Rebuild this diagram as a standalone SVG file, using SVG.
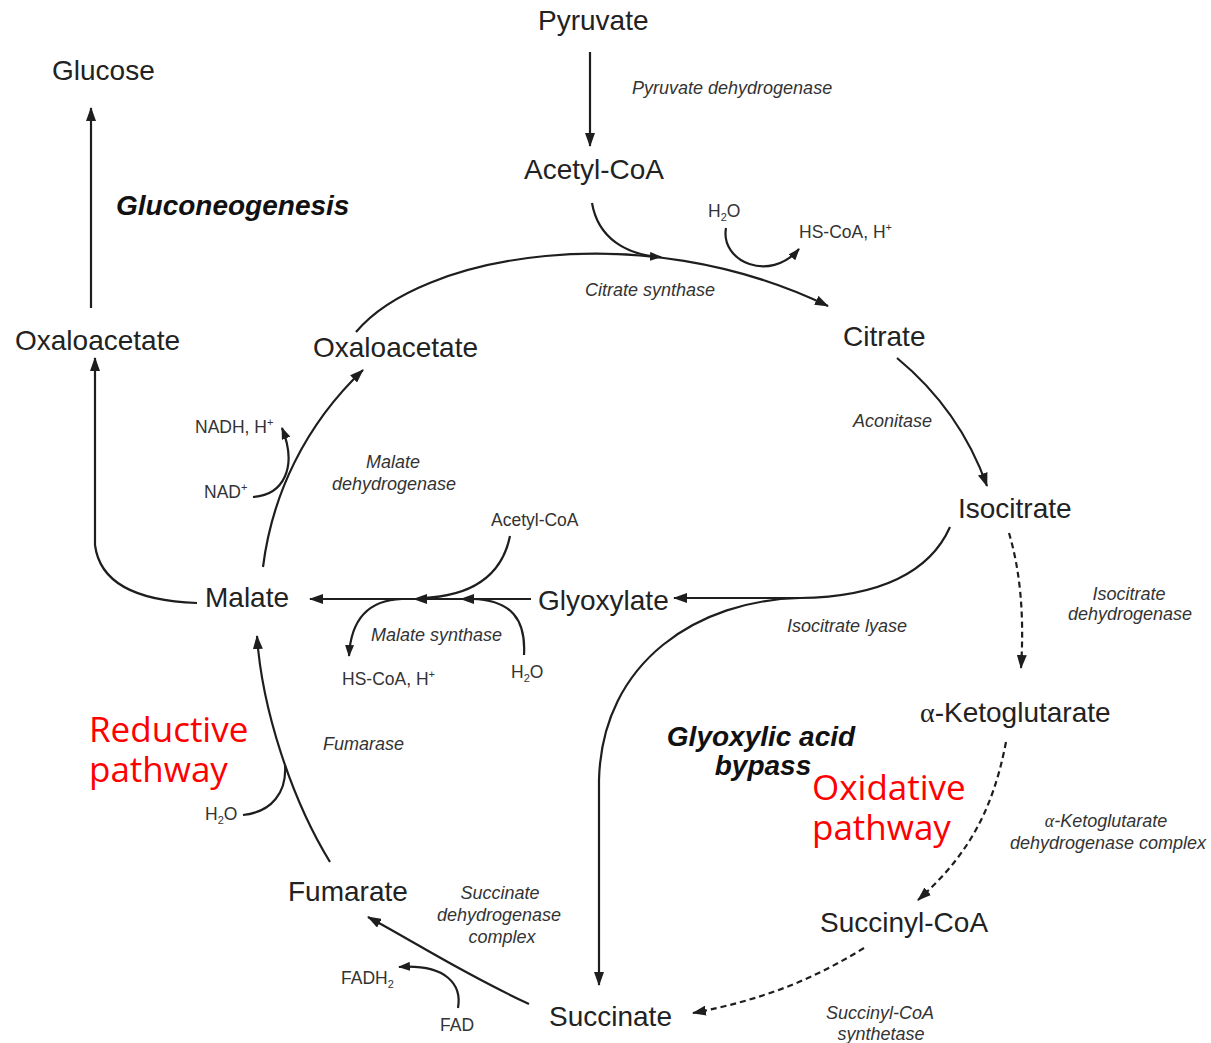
<svg xmlns="http://www.w3.org/2000/svg" width="1211" height="1043" viewBox="0 0 1211 1043">
  <defs>
    <marker id="arrow" viewBox="0 0 14 10" refX="13" refY="5" markerWidth="14" markerHeight="10" markerUnits="userSpaceOnUse" orient="auto">
      <path d="M0,0 L14,5 L0,10 z" fill="#1e1e1e"/>
    </marker>
    <marker id="arrowSm" viewBox="0 0 12 9" refX="11" refY="4.5" markerWidth="12" markerHeight="9" markerUnits="userSpaceOnUse" orient="auto">
      <path d="M0,0 L12,4.5 L0,9 z" fill="#1e1e1e"/>
    </marker>
    <style>
      .node { font-family: "Liberation Sans", Arial, sans-serif; font-size: 28px; fill: #222; }
      .enz { font-family: "Liberation Sans", Arial, sans-serif; font-size: 18px; font-style: italic; fill: #333; }
      .rea { font-family: "Liberation Sans", Arial, sans-serif; font-size: 17.5px; fill: #333; }
      .bold { font-family: "Liberation Sans", Arial, sans-serif; font-size: 28px; font-style: italic; font-weight: bold; fill: #111; }
      .red { font-family: "Open Sans", "Noto Sans", sans-serif; font-size: 35px; fill: #ff0000; }
      .ln { fill: none; stroke: #1e1e1e; stroke-width: 2.2; }
      .arr { marker-end: url(#arrow); }
      .arrs { marker-end: url(#arrowSm); }
      .dash { stroke-dasharray: 6 4; }
      .greek { font-family: "Liberation Serif", "Times New Roman", serif; }
    </style>
  </defs>

  <rect width="1211" height="1043" fill="#ffffff"/>

  <!-- connectors -->
  <g id="connectors">
    <!-- Pyruvate to Acetyl-CoA -->
    <path class="ln arr" d="M590 52 L590 146"/>
    <!-- Oxaloacetate (left) to Glucose -->
    <path class="ln arr" d="M91 308 L91 108"/>
    <!-- Malate to Oxaloacetate (left) -->
    <path class="ln arr" d="M197 603 C140 601 100 585 95 545 L95 358"/>
    <!-- Malate to Oxaloacetate (cycle) -->
    <path class="ln arr" d="M263 567 C272 495 305 425 363 370"/>
    <!-- NAD+ in, NADH out -->
    <path class="ln arrs" d="M253 497 C283 495 298 468 282 428"/>
    <!-- Oxaloacetate to Citrate -->
    <path class="ln arr" d="M356 332 C420 255 640 215 828 306"/>
    <!-- Acetyl-CoA joining -->
    <path class="ln arrs" d="M592 203 C598 238 626 255 661 257"/>
    <!-- H2O in, HS-CoA out -->
    <path class="ln arrs" d="M726 228 C720 262 770 283 799 249"/>
    <!-- Citrate to Isocitrate -->
    <path class="ln arr" d="M897 358 Q960 410 987 486"/>
    <!-- Isocitrate to alpha-Ketoglutarate -->
    <path class="ln dash arr" d="M1009 533 Q1026 590 1021 668"/>
    <!-- alpha-Ketoglutarate to Succinyl-CoA -->
    <path class="ln dash arr" d="M1006 742 C992 815 965 858 918 900"/>
    <!-- Succinyl-CoA to Succinate -->
    <path class="ln dash arr" d="M864 948 C812 980 762 1000 693 1013"/>
    <!-- Isocitrate lyase: to Glyoxylate -->
    <path class="ln arr" d="M950 527 C930 572 880 597 800 598 L674 598"/>
    <!-- Isocitrate lyase: to Succinate -->
    <path class="ln arr" d="M800 598 C700 600 602 660 599 780 L599 985"/>
    <!-- Glyoxylate to Malate (malate synthase) -->
    <path class="ln" d="M531 599 L310 599" marker-end="url(#arrow)"/>
    <path d="M460 599 l14 -5 l0 10 z" fill="#1e1e1e"/>
    <path d="M413 599 l14 -5 l0 10 z" fill="#1e1e1e"/>
    <!-- Acetyl-CoA joining -->
    <path class="ln" d="M510 536 C502 575 472 596 422 598"/>
    <!-- H2O joining -->
    <path class="ln" d="M524 655 C526 620 512 600 472 599"/>
    <!-- HS-CoA out -->
    <path class="ln arrs" d="M402 599 C370 600 351 617 349 656"/>
    <!-- Fumarate to Malate -->
    <path class="ln arr" d="M330 862 C292 800 262 710 257 636"/>
    <!-- H2O joining -->
    <path class="ln" d="M243 815 C272 812 287 792 285 765"/>
    <!-- Succinate to Fumarate -->
    <path class="ln arr" d="M529 1004 C460 972 420 945 368 917"/>
    <!-- FAD in, FADH2 out -->
    <path class="ln arrs" d="M458 1008 C462 985 447 964 399 967"/>
  </g>

  <!-- metabolites -->
  <g id="pyruvate"><text class="node" x="538" y="30">Pyruvate</text></g>
  <g id="glucose"><text class="node" x="52" y="80">Glucose</text></g>
  <g id="acetyl-coa"><text class="node" x="524" y="179">Acetyl-CoA</text></g>
  <g id="citrate"><text class="node" x="843" y="346">Citrate</text></g>
  <g id="oxaloacetate-gluco"><text class="node" x="15" y="350">Oxaloacetate</text></g>
  <g id="oxaloacetate"><text class="node" x="313" y="357">Oxaloacetate</text></g>
  <g id="isocitrate"><text class="node" x="958" y="518">Isocitrate</text></g>
  <g id="malate"><text class="node" x="205" y="607">Malate</text></g>
  <g id="glyoxylate"><text class="node" x="538" y="610">Glyoxylate</text></g>
  <g id="ketoglutarate"><text class="node" x="920" y="722"><tspan class="greek">α</tspan>-Ketoglutarate</text></g>
  <g id="fumarate"><text class="node" x="288" y="901">Fumarate</text></g>
  <g id="succinyl-coa"><text class="node" x="820" y="932">Succinyl-CoA</text></g>
  <g id="succinate"><text class="node" x="549" y="1026">Succinate</text></g>

  <!-- enzymes -->
  <g id="enzymes">
    <text class="enz" x="632" y="94">Pyruvate dehydrogenase</text>
    <text class="enz" x="585" y="296">Citrate synthase</text>
    <text class="enz" x="853" y="427">Aconitase</text>
    <text class="enz" text-anchor="middle" x="1129" y="600">Isocitrate</text>
    <text class="enz" text-anchor="middle" x="1130" y="620">dehydrogenase</text>
    <text class="enz" x="787" y="632">Isocitrate lyase</text>
    <text class="enz" text-anchor="middle" x="393" y="468">Malate</text>
    <text class="enz" text-anchor="middle" x="394" y="490">dehydrogenase</text>
    <text class="enz" x="371" y="641">Malate synthase</text>
    <text class="enz" x="323" y="750">Fumarase</text>
    <text class="enz" text-anchor="middle" x="500" y="899">Succinate</text>
    <text class="enz" text-anchor="middle" x="499" y="921">dehydrogenase</text>
    <text class="enz" text-anchor="middle" x="502" y="943">complex</text>
    <text class="enz" text-anchor="middle" x="1106" y="827"><tspan class="greek">α</tspan>-Ketoglutarate</text>
    <text class="enz" text-anchor="middle" x="1108" y="849">dehydrogenase complex</text>
    <text class="enz" text-anchor="middle" x="880" y="1019">Succinyl-CoA</text>
    <text class="enz" text-anchor="middle" x="881" y="1040">synthetase</text>
  </g>

  <!-- cofactors -->
  <g id="cofactors">
    <text class="rea" x="708" y="217">H<tspan font-size="11" dy="4">2</tspan><tspan dy="-4">O</tspan></text>
    <text class="rea" x="799" y="238">HS-CoA, H<tspan font-size="11" dy="-7">+</tspan></text>
    <text class="rea" x="195" y="433">NADH, H<tspan font-size="11" dy="-7">+</tspan></text>
    <text class="rea" x="204" y="498">NAD<tspan font-size="11" dy="-7">+</tspan></text>
    <text class="rea" x="491" y="526">Acetyl-CoA</text>
    <text class="rea" x="342" y="685">HS-CoA, H<tspan font-size="11" dy="-7">+</tspan></text>
    <text class="rea" x="511" y="678">H<tspan font-size="11" dy="4">2</tspan><tspan dy="-4">O</tspan></text>
    <text class="rea" x="205" y="820">H<tspan font-size="11" dy="4">2</tspan><tspan dy="-4">O</tspan></text>
    <text class="rea" x="341" y="984">FADH<tspan font-size="11" dy="4">2</tspan></text>
    <text class="rea" x="440" y="1031">FAD</text>
  </g>

  <!-- pathway headings -->
  <g id="headings">
    <text class="bold" x="116" y="215">Gluconeogenesis</text>
    <text class="bold" text-anchor="middle"><tspan x="761" y="746">Glyoxylic acid</tspan><tspan x="763" y="775">bypass</tspan></text>
    <text class="red"><tspan x="89" y="742">Reductive</tspan><tspan x="89" y="782">pathway</tspan></text>
    <text class="red"><tspan x="812" y="800">Oxidative</tspan><tspan x="812" y="840">pathway</tspan></text>
  </g>
</svg>
